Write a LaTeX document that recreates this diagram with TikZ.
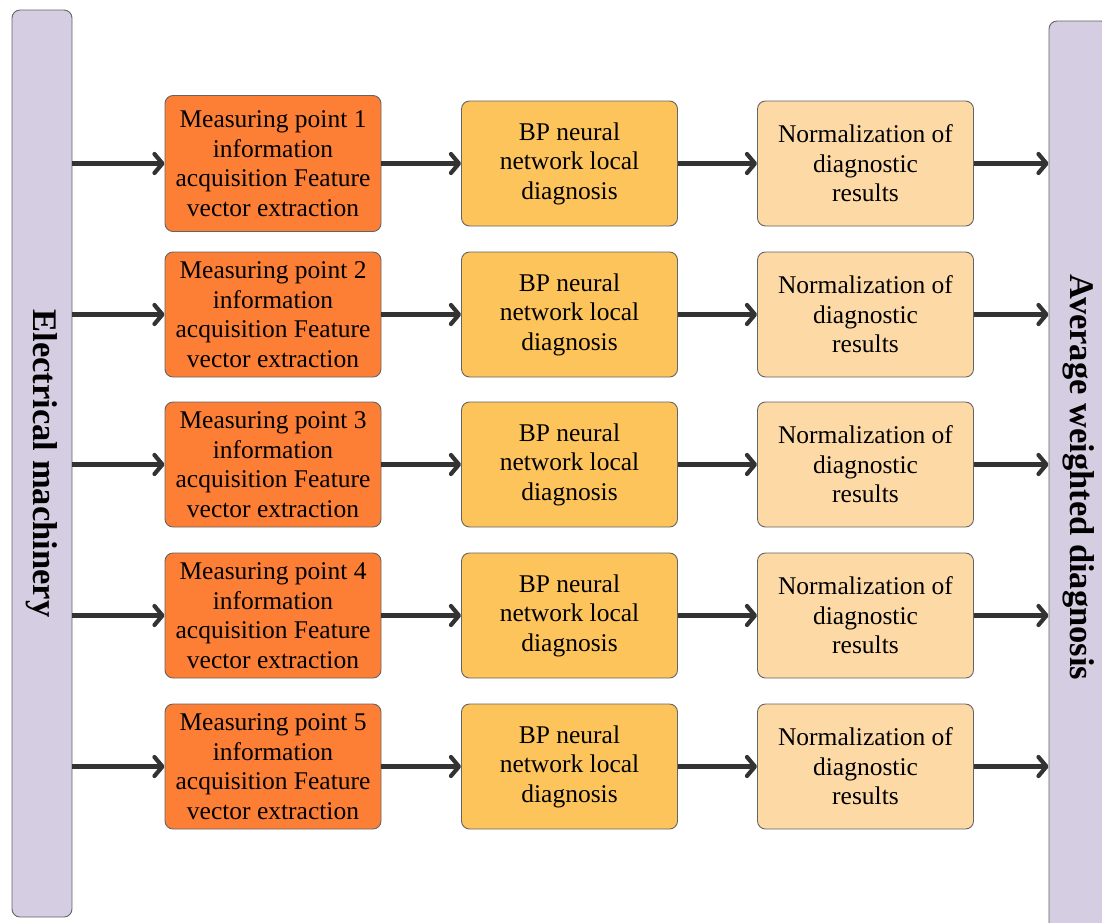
\documentclass[tikz,border=0pt]{standalone}
\usepackage{fontspec}
\setmainfont{Liberation Serif}
\usetikzlibrary{arrows.meta}

\definecolor{barfill}{RGB}{213,205,225}
\definecolor{edgegray}{RGB}{100,100,100}
\definecolor{acqfill}{RGB}{253,127,54}
\definecolor{bpfill}{RGB}{253,196,92}
\definecolor{normfill}{RGB}{253,217,166}
\definecolor{arrowgray}{RGB}{51,51,51}

\tikzset{
  sidebar/.style={draw=edgegray, line width=0.9pt, fill=barfill, rounded corners=8pt,
    minimum width=60pt, inner sep=0pt},
  bartext/.style={rotate=-90, font=\bfseries\fontsize{34.5}{40}\selectfont},
  stagebox/.style={draw=edgegray, line width=0.9pt, rounded corners=8pt, inner sep=0pt,
    minimum width=216pt, minimum height=125pt, align=center,
    font=\fontsize{25.5}{29.5}\selectfont},
  acqbox/.style={stagebox, fill=acqfill},
  bpbox/.style={stagebox, fill=bpfill},
  normbox/.style={stagebox, fill=normfill},
  flow/.style={draw=arrowgray, line width=4.5pt,
    -{Straight Barb[length=8pt, width=19pt, line width=4.2pt, line cap=round, line join=round]}},
}

\begin{document}
\begin{tikzpicture}[x=1pt, y=-1pt]
  \useasboundingbox (0,0) rectangle (1102,922);
  \begin{scope}
    \clip (0,0) rectangle (1102,922);

    % side bars
    \node[sidebar, minimum height=907pt] (machine) at (42,463.5) {};
    \node[bartext] at (machine.center) {Electrical machinery};
    \node[sidebar, minimum height=913pt] (average) at (1079,477.5) {};
    \node[bartext] at (average.center) {Average weighted diagnosis};

    % first row
    \node[acqbox, minimum height=136pt] (acq1) at (273,163.5)
      {Measuring point 1\\information\\acquisition Feature\\vector extraction};
    \node[bpbox] (bp1) at (569.5,163.5) {BP neural\\network local\\diagnosis};
    \node[normbox] (nm1) at (865.5,163.5) {Normalization of\\diagnostic\\results};

    % remaining rows
    \foreach \i/\y in {2/314.5, 3/464.5, 4/615.5, 5/766.5} {
      \node[acqbox] (acq\i) at (273,\y)
        {Measuring point \i\\information\\acquisition Feature\\vector extraction};
      \node[bpbox] (bp\i) at (569.5,\y) {BP neural\\network local\\diagnosis};
      \node[normbox] (nm\i) at (865.5,\y) {Normalization of\\diagnostic\\results};
    }

    % connectors
    \foreach \i in {1,...,5} {
      \draw[flow] (machine.east |- acq\i.west) -- (acq\i.west);
      \draw[flow] (acq\i.east) -- (bp\i.west);
      \draw[flow] (bp\i.east) -- (nm\i.west);
      \draw[flow] (nm\i.east) -- (average.west |- nm\i.east);
    }
  \end{scope}
\end{tikzpicture}
\end{document}
